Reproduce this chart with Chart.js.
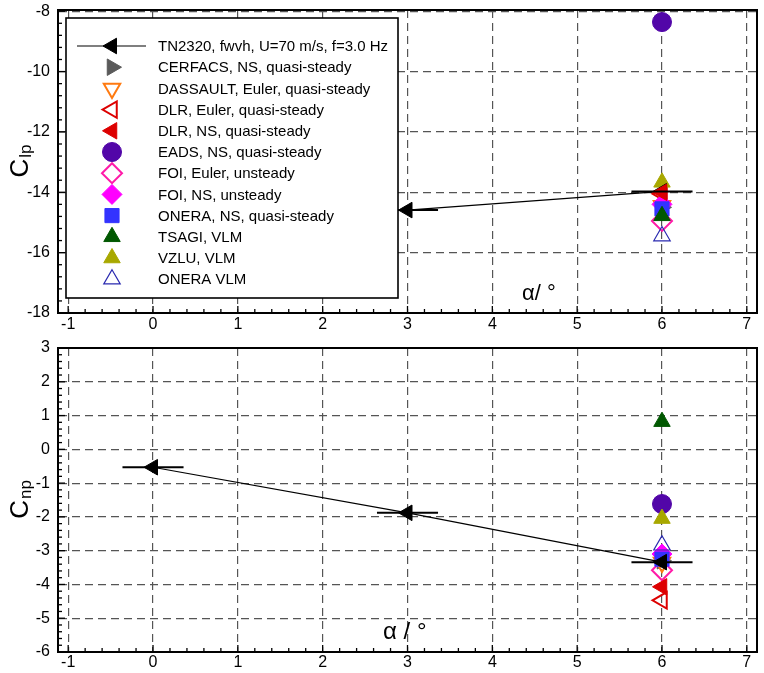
<!DOCTYPE html>
<html>
<head>
    <meta charset="utf-8" />
    <title>Clp / Cnp vs alpha</title>
    <script src="https://cdn.jsdelivr.net/npm/chart.js"></script>
    <style>
        body { margin: 0; background: #fff; overflow: hidden; }
        #wrap { position: relative; width: 764px; height: 673px; }
        #clpChart { position: absolute; left: 0; top: 0; }
        #cnpChart { position: absolute; left: 0; top: 340px; }
    </style>
</head>
<body>
<div id="wrap">
    <canvas id="clpChart" width="764" height="340" style="width:764px;height:340px"></canvas>
    <canvas id="cnpChart" width="764" height="333" style="width:764px;height:333px"></canvas>
</div>

<script>
    const FONT = "'Liberation Sans', Arial, sans-serif";

    // axis ticks
    const alphaTicks = [-1, 0, 1, 2, 3, 4, 5, 6, 7];
    const clpTicks = [-18, -16, -14, -12, -10, -8];
    const cnpTicks = [-6, -5, -4, -3, -2, -1, 0, 1, 2, 3];

    // experiment (line with arrows + horizontal error bars)
    const expLabel = 'TN2320, fwvh, U=70 m/s, f=3.0 Hz';
    const expAlphaClp = [3, 6];
    const expClp = [-14.59, -13.97];
    const expAlphaCnp = [0, 3, 6];
    const expCnp = [-0.53, -1.88, -3.34];
    const expAlphaErr = [0.36, 0.36, 0.36];

    // computations, all at alpha = 6
    const simLabels = [
        'CERFACS, NS, quasi-steady',
        'DASSAULT, Euler, quasi-steady',
        'DLR, Euler, quasi-steady',
        'DLR, NS, quasi-steady',
        'EADS, NS, quasi-steady',
        'FOI, Euler, unsteady',
        'FOI, NS, unsteady',
        'ONERA, NS, quasi-steady',
        'TSAGI, VLM',
        'VZLU, VLM',
        'ONERA VLM'
    ];
    const simAlpha = [6, 6, 6, 6, 6, 6, 6, 6, 6, 6, 6];
    const simClp = [-14.5, -14.45, -14.05, -14.0, -8.36, -14.95, -14.4, -14.55, -14.78, -13.67, -15.45];
    const simCnp = [-3.3, -3.35, -4.47, -4.07, -1.62, -3.58, -3.1, -3.25, 0.82, -2.05, -2.84];

    // marker looks
    const simMarkers = [
        { style: 'triangle', rot: 90,  color: '#5a5a5a', fill: true,  r: 9.5, lw: 1 },
        { style: 'triangle', rot: 180, color: '#ff7a10', fill: false, r: 9.5, lw: 2 },
        { style: 'triangle', rot: 270, color: '#dd0000', fill: false, r: 9.5, lw: 2 },
        { style: 'triangle', rot: 270, color: '#dd0000', fill: true,  r: 9.5, lw: 1, top: true },
        { style: 'circle',   rot: 0,   color: '#5206a8', fill: true,  r: 9.5, lw: 1 },
        { style: 'rectRot',  rot: 0,   color: '#ff1aa8', fill: false, r: 10,  lw: 2 },
        { style: 'rectRot',  rot: 0,   color: '#ff00ff', fill: true,  r: 10,  lw: 1 },
        { style: 'rect',     rot: 0,   color: '#3333ff', fill: true,  r: 10,  lw: 1 },
        { style: 'triangle', rot: 0,   color: '#005800', fill: true,  r: 9.5, lw: 1 },
        { style: 'triangle', rot: 0,   color: '#a8a800', fill: true,  r: 9.5, lw: 1 },
        { style: 'triangle', rot: 0,   color: '#2a2ab0', fill: false, r: 9.5, lw: 1.2 }
    ];

    function buildDatasets(expAlpha, expVals, simVals) {
        const sets = [{
            label: expLabel,
            data: expAlpha.map((a, i) => ({ x: a, y: expVals[i] })),
            showLine: true,
            borderColor: '#000',
            borderWidth: 1.2,
            pointStyle: 'triangle',
            pointRotation: 270,
            pointRadius: 9,
            pointBackgroundColor: '#000',
            pointBorderColor: '#000',
            pointBorderWidth: 1,
            order: -100
        }];
        simLabels.forEach((lab, i) => {
            const m = simMarkers[i];
            sets.push({
                label: lab,
                data: [{ x: simAlpha[i], y: simVals[i] }],
                showLine: false,
                pointStyle: m.style,
                pointRotation: m.rot,
                pointRadius: m.r,
                pointBackgroundColor: m.fill ? m.color : 'rgba(0,0,0,0)',
                pointBorderColor: m.color,
                pointBorderWidth: m.lw,
                order: m.top ? -200 : -i
            });
        });
        return sets;
    }

    function noPad(s) {
        s.paddingLeft = 0; s.paddingRight = 0; s.paddingTop = 0; s.paddingBottom = 0;
    }

    function scalesFor(yMin, yMax, yTicks, xHeight, xPad) {
        return {
            x: {
                type: 'linear',
                min: -1.12,
                max: 7.12,
                afterBuildTicks: s => { s.ticks = alphaTicks.map(v => ({ value: v })); },
                afterFit: s => { s.height = xHeight; noPad(s); },
                ticks: { color: '#000', font: { family: FONT, size: 16 }, padding: xPad, maxRotation: 0, autoSkip: false, callback: v => String(v) },
                grid: { color: '#555', lineWidth: 1.2, drawTicks: false },
                border: { display: true, color: '#000', width: 2, dash: [8, 5] }
            },
            y: {
                type: 'linear',
                min: yMin,
                max: yMax,
                afterBuildTicks: s => { s.ticks = yTicks.map(v => ({ value: v })); },
                afterFit: s => { s.width = 58; noPad(s); },
                ticks: { color: '#000', font: { family: FONT, size: 16 }, padding: 8, autoSkip: false, callback: v => String(v) },
                grid: { color: '#555', lineWidth: 1.2, drawTicks: false },
                border: { display: true, color: '#000', width: 2, dash: [8, 5] }
            }
        };
    }

    // frame + inward major/minor ticks
    function framePlugin(xMinor, yMinor) {
        return {
            id: 'frame',
            afterDraw(chart) {
                const { ctx, chartArea: a, scales } = chart;
                const xs = scales.x, ys = scales.y;
                ctx.save();
                ctx.strokeStyle = '#000';
                ctx.lineWidth = 1.3;
                const tick = (axis, v, len) => {
                    ctx.beginPath();
                    if (axis === 'x') {
                        const px = xs.getPixelForValue(v);
                        ctx.moveTo(px, a.bottom); ctx.lineTo(px, a.bottom - len);
                    } else {
                        const py = ys.getPixelForValue(v);
                        ctx.moveTo(a.left, py); ctx.lineTo(a.left + len, py);
                    }
                    ctx.stroke();
                };
                const xn = Math.round(1 / xMinor);
                for (let v = Math.ceil(xs.min); v <= xs.max + 1e-9; v += 1) {
                    for (let k = 0; k < xn; k++) {
                        const t = v + k * xMinor;
                        if (t > xs.max) break;
                        tick('x', t, k === 0 ? 7 : 4);
                    }
                }
                const yStep = yMinor * 5;
                for (let v = ys.min; v <= ys.max + 1e-9; v += yStep) {
                    for (let k = 0; k < 5; k++) {
                        const t = v + k * yMinor;
                        if (t > ys.max + 1e-9) break;
                        tick('y', t, k === 0 ? 7 : 4);
                    }
                }
                ctx.lineWidth = 2;
                ctx.strokeRect(a.left, a.top, a.right - a.left, a.bottom - a.top);
                ctx.restore();
            }
        };
    }

    // horizontal error bars on the experimental points
    const errorBarPlugin = {
        id: 'errorBars',
        afterDatasetsDraw(chart) {
            const { ctx, scales } = chart;
            const pts = chart.data.datasets[0].data;
            ctx.save();
            ctx.strokeStyle = '#000';
            ctx.lineWidth = 2;
            pts.forEach((p, i) => {
                const y = scales.y.getPixelForValue(p.y);
                ctx.beginPath();
                ctx.moveTo(scales.x.getPixelForValue(p.x - expAlphaErr[i]), y);
                ctx.lineTo(scales.x.getPixelForValue(p.x + expAlphaErr[i]), y);
                ctx.stroke();
            });
            ctx.restore();
        }
    };

    function titlePlugin(sub, alphaText, alphaX, alphaSize) {
        return {
            id: 'titles',
            afterDraw(chart) {
                const { ctx, chartArea: a } = chart;
                const mid = (a.top + a.bottom) / 2;
                ctx.save();
                ctx.fillStyle = '#000';
                ctx.textBaseline = 'alphabetic';
                ctx.font = '26px ' + FONT;
                const wC = ctx.measureText('C').width;
                ctx.font = '17px ' + FONT;
                const wS = ctx.measureText(sub).width;
                ctx.translate(28, mid + (wC + wS) / 2);
                ctx.rotate(-Math.PI / 2);
                ctx.font = '26px ' + FONT;
                ctx.fillText('C', 0, 0);
                ctx.font = '17px ' + FONT;
                ctx.fillText(sub, wC + 1, 3);
                ctx.restore();

                ctx.save();
                ctx.fillStyle = '#000';
                ctx.font = alphaSize + 'px ' + FONT;
                ctx.textBaseline = 'alphabetic';
                ctx.fillText(alphaText, alphaX, a.bottom - 13);
                ctx.restore();
            }
        };
    }

    // legend box inside the upper plot
    const legendPlugin = {
        id: 'boxLegend',
        afterDraw(chart) {
            const ctx = chart.ctx;
            const box = { x: 66, y: 18, w: 332, h: 280 };
            ctx.save();
            ctx.fillStyle = '#fff';
            ctx.fillRect(box.x, box.y, box.w, box.h);
            ctx.strokeStyle = '#000';
            ctx.lineWidth = 1.6;
            ctx.strokeRect(box.x, box.y, box.w, box.h);

            const mx = 112, tx = 158, y0 = 46, dy = 21.2;
            ctx.font = '15px ' + FONT;
            ctx.textBaseline = 'middle';
            chart.data.datasets.forEach((ds, i) => {
                const y = y0 + i * dy;
                if (i === 0) {
                    ctx.strokeStyle = '#000';
                    ctx.lineWidth = 1.2;
                    ctx.beginPath();
                    ctx.moveTo(77, y); ctx.lineTo(146, y);
                    ctx.stroke();
                }
                ctx.fillStyle = ds.pointBackgroundColor;
                ctx.strokeStyle = ds.pointBorderColor;
                ctx.lineWidth = ds.pointBorderWidth;
                Chart.helpers.drawPoint(ctx, {
                    pointStyle: ds.pointStyle,
                    rotation: ds.pointRotation,
                    radius: ds.pointRadius,
                    borderWidth: ds.pointBorderWidth
                }, mx, y);
                ctx.fillStyle = '#000';
                ctx.fillText(ds.label, tx, y + 1);
            });
            ctx.restore();
        }
    };

    new Chart(document.getElementById('clpChart'), {
        type: 'scatter',
        data: { datasets: buildDatasets(expAlphaClp, expClp, simClp) },
        options: {
            responsive: false,
            animation: false,
            layout: { autoPadding: false, padding: { top: 10, right: 7, left: 0, bottom: 0 } },
            plugins: { legend: { display: false }, tooltip: { enabled: false } },
            scales: scalesFor(-18, -7.96, clpTicks, 27, 2)
        },
        plugins: [errorBarPlugin, framePlugin(0.2, 0.4), titlePlugin('lp', 'α/ °', 522, 22), legendPlugin]
    });

    new Chart(document.getElementById('cnpChart'), {
        type: 'scatter',
        data: { datasets: buildDatasets(expAlphaCnp, expCnp, simCnp) },
        options: {
            responsive: false,
            animation: false,
            layout: { autoPadding: false, padding: { top: 8, right: 7, left: 0, bottom: 0 } },
            plugins: { legend: { display: false }, tooltip: { enabled: false } },
            scales: scalesFor(-6, 3, cnpTicks, 21, 1)
        },
        plugins: [errorBarPlugin, framePlugin(0.2, 0.2), titlePlugin('np', 'α / °', 383, 24)]
    });
</script>
</body>
</html>
